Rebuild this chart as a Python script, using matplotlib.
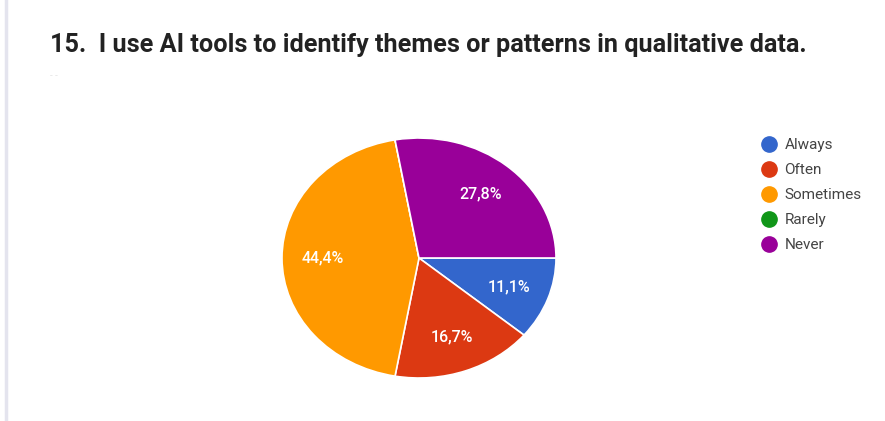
import matplotlib
matplotlib.use("Agg")
import matplotlib.pyplot as plt
from matplotlib.lines import Line2D

plt.rcParams['font.family'] = ['Roboto', 'DejaVu Sans']

title = "15.  I use AI tools to identify themes or patterns in qualitative data."
labels = ["Always", "Often", "Sometimes", "Rarely", "Never"]
shares = [11.1, 16.7, 44.4, 0.0, 27.8]
colors = ["#3366cc", "#dc3912", "#ff9900", "#109618", "#990099"]

W, H = 885, 421
fig = plt.figure(figsize=(W / 100, H / 100), dpi=100)
fig.patch.set_facecolor("white")

# pie box in pixels: centre (419, 258), radii 137 x 120 (stretched)
cx, cy, rx, ry = 419, 258, 137, 120
ax = fig.add_axes([(cx - rx) / W, (H - cy - ry) / H, 2 * rx / W, 2 * ry / H])


def pct(v):
    if v < 0.05:
        return ""
    return f"{v:.1f}%".replace(".", ",")


wedges, texts, autotexts = ax.pie(
    shares, colors=colors, startangle=0, counterclock=False,
    autopct=pct, pctdistance=0.7,
    wedgeprops=dict(edgecolor="white", linewidth=1.2),
    textprops=dict(color="white", fontsize=11.5, fontweight="medium"),
)
ax.set_aspect("auto")
ax.set_xlim(-1, 1)
ax.set_ylim(-1, 1)
ax.axis("off")

fig.text(50 / W, 1 - 45 / H, title, fontsize=18.2, fontweight="bold",
         color="#222222", va="center", ha="left")
fig.text(50 / W, 1 - 76 / H, "- -", fontsize=7, color="#e6e6e6",
         va="center", ha="left")

# thin border on the left edge
fig.add_artist(Line2D([6 / W, 6 / W], [0, 1], color="#e4e4ee", linewidth=2.5))

handles = [Line2D([], [], marker="o", linestyle="", markersize=11,
                  markerfacecolor=c, markeredgecolor=c) for c in colors]
leg = fig.legend(handles, labels, loc="upper left",
                 bbox_to_anchor=(760 / W, 1 - 138 / H), frameon=False,
                 fontsize=11, labelspacing=0.72, handletextpad=0.4,
                 handlelength=1.2, borderaxespad=0, borderpad=0)
for t in leg.get_texts():
    t.set_color("#444444")

fig.savefig("out.png", dpi=100, facecolor="white")
